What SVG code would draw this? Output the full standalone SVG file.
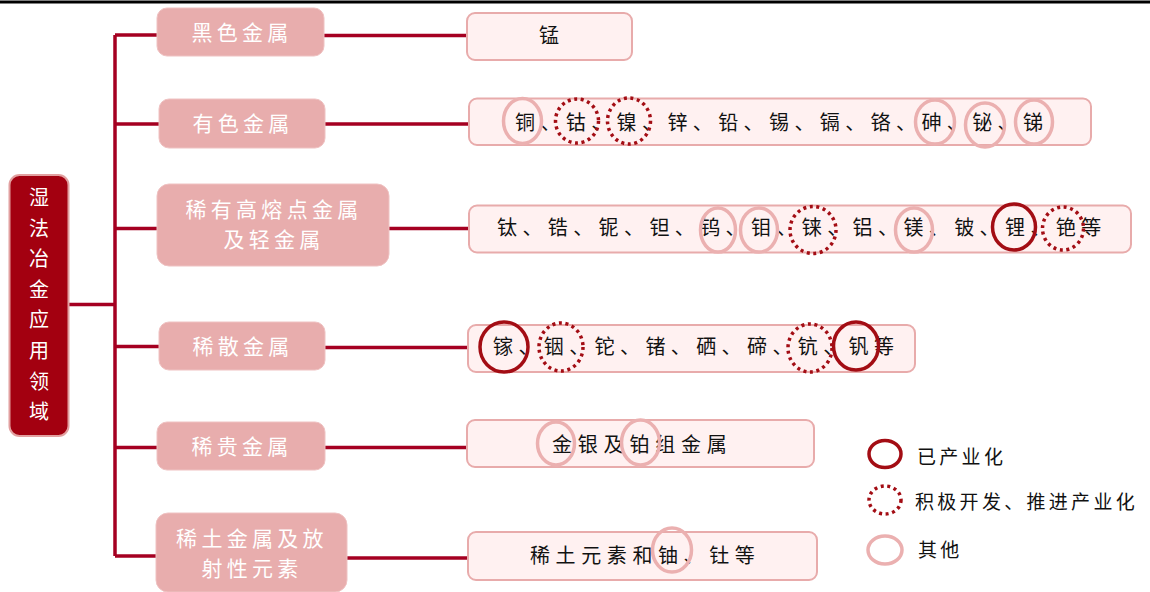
<svg xmlns="http://www.w3.org/2000/svg" width="1150" height="592" viewBox="0 0 1150 592">
<style>
text{font-family:"Noto Sans CJK SC","Noto Sans CJK JP",sans-serif}
.conn{stroke:#A50021;stroke-width:3.5;fill:none}
.root{fill:#A30010;stroke:#E2A0A0;stroke-width:2}
.rt{fill:#fff;font-size:20px;text-anchor:middle;dominant-baseline:central}
.branch{fill:#E8ADAD;stroke:#EFC2C2;stroke-width:1}
.bt{fill:#fff;font-size:21px;letter-spacing:4.3px;text-anchor:middle;dominant-baseline:central}
.leaf{fill:#FFF1F1;stroke:#E8ABAB;stroke-width:2}
.lt{fill:#111;font-size:20px;letter-spacing:5.4px;dominant-baseline:central}
.cs{fill:none;stroke:#A30D14;stroke-width:3.5}
.cd{fill:none;stroke:#A30D14;stroke-width:3.5;stroke-dasharray:3 3.6}
.cl{fill:none;stroke:#EBB0B0;stroke-width:3.5}
.lg{fill:#111;font-size:19px;letter-spacing:3.3px;dominant-baseline:central}
</style>
<line x1="0" y1="2" x2="1150" y2="2" stroke="#000" stroke-width="3"/>
<g id="connectors">
<path class="conn" d="M69 304.5 H115"/>
<path class="conn" d="M115 35 V556"/>
<path class="conn" d="M115 35 H157"/>
<path class="conn" d="M115 124 H159"/>
<path class="conn" d="M115 228.5 H157"/>
<path class="conn" d="M115 346.5 H159"/>
<path class="conn" d="M115 447.5 H157"/>
<path class="conn" d="M115 556 H156"/>
<path class="conn" d="M324 35.5 H467"/>
<path class="conn" d="M325 124 H469"/>
<path class="conn" d="M389 228.5 H469"/>
<path class="conn" d="M325 347.5 H468"/>
<path class="conn" d="M325 447.5 H467"/>
<path class="conn" d="M347 558 H468"/>
</g>
<g id="root">
<rect class="root" x="9.5" y="175" width="59" height="261" rx="10"/>
<text class="rt"><tspan x="39" y="196">湿</tspan><tspan x="39" y="226.6">法</tspan><tspan x="39" y="257.2">冶</tspan><tspan x="39" y="287.8">金</tspan><tspan x="39" y="318.4">应</tspan><tspan x="39" y="349">用</tspan><tspan x="39" y="379.6">领</tspan><tspan x="39" y="410.2">域</tspan></text>
</g>
<g id="b1"><rect class="branch" x="157" y="8" width="167" height="48" rx="10"/><text class="bt" x="242" y="31">黑色金属</text></g>
<g id="b2"><rect class="branch" x="159" y="99" width="166" height="49" rx="10"/><text class="bt" x="243" y="122">有色金属</text></g>
<g id="b3"><rect class="branch" x="157" y="184" width="232" height="82" rx="12"/><text class="bt" x="274" y="208">稀有高熔点金属</text><text class="bt" x="274" y="238">及轻金属</text></g>
<g id="b4"><rect class="branch" x="159" y="322" width="166" height="48" rx="10"/><text class="bt" x="243" y="345">稀散金属</text></g>
<g id="b5"><rect class="branch" x="157" y="422" width="168" height="48" rx="10"/><text class="bt" x="242" y="445">稀贵金属</text></g>
<g id="b6"><rect class="branch" x="156" y="513" width="191" height="79" rx="12"/><text class="bt" x="252" y="537">稀土金属及放</text><text class="bt" x="252" y="567">射性元素</text></g>
<g id="l1"><rect class="leaf" x="467" y="13" width="165" height="47" rx="8"/><text class="lt" x="539" y="34">锰</text></g>
<g id="l2"><rect class="leaf" x="469" y="98.5" width="622" height="46.5" rx="8"/><text class="lt" x="515" y="121">铜、钴、镍、锌、铅、锡、镉、铬、砷、铋、锑</text>
<ellipse class="cl" cx="522.5" cy="121" rx="19" ry="22.5"/>
<ellipse class="cd" cx="577" cy="121" rx="21.5" ry="22"/>
<ellipse class="cd" cx="629" cy="121" rx="21.5" ry="23"/>
<ellipse class="cl" cx="935" cy="122" rx="19.5" ry="22"/>
<ellipse class="cl" cx="985" cy="125" rx="19.5" ry="22"/>
<ellipse class="cl" cx="1034" cy="122" rx="18.5" ry="22"/>
</g>
<g id="l3"><rect class="leaf" x="469" y="205.5" width="662" height="47" rx="8"/><text class="lt" x="497" y="226">钛、锆、铌、钽、钨、钼、铼、铝、镁、铍、锂、铯等</text>
<ellipse class="cl" cx="718" cy="230" rx="17.5" ry="22"/>
<ellipse class="cl" cx="759" cy="230" rx="18.5" ry="22"/>
<ellipse class="cd" cx="813" cy="230" rx="23" ry="23.5"/>
<ellipse class="cl" cx="914" cy="230" rx="18.5" ry="22"/>
<ellipse class="cs" cx="1014" cy="227" rx="21.5" ry="23"/>
<ellipse class="cd" cx="1063" cy="228.5" rx="20.5" ry="21.5"/>
</g>
<g id="l4"><rect class="leaf" x="468" y="325" width="447" height="47" rx="8"/><text class="lt" x="493" y="345">镓、铟、铊、锗、硒、碲、钪、钒等</text>
<ellipse class="cs" cx="504" cy="347" rx="24" ry="25"/>
<ellipse class="cd" cx="561" cy="347" rx="22" ry="24"/>
<ellipse class="cd" cx="810" cy="348" rx="22" ry="24"/>
<ellipse class="cs" cx="856" cy="346" rx="22.5" ry="24"/>
</g>
<g id="l5"><rect class="leaf" x="467" y="420" width="347" height="47" rx="8"/><text class="lt" x="552" y="443" style="letter-spacing:5.8px">金银及铂组金属</text>
<ellipse class="cl" cx="556" cy="443.5" rx="18.5" ry="21.5"/>
<ellipse class="cl" cx="640.5" cy="442.5" rx="19" ry="22.5"/>
</g>
<g id="l6"><rect class="leaf" x="468" y="532" width="349" height="48" rx="8"/><text class="lt" x="530" y="554" style="letter-spacing:5.6px">稀土元素和铀、钍等</text>
<ellipse class="cl" cx="672" cy="550" rx="19.5" ry="22"/>
</g>
<g id="legend">
<ellipse class="cs" cx="885" cy="454" rx="16" ry="13.5"/>
<text class="lg" x="917" y="455">已产业化</text>
<ellipse class="cd" cx="885" cy="500" rx="16" ry="14"/>
<text class="lg" x="915" y="500">积极开发、推进产业化</text>
<ellipse class="cl" cx="885" cy="550" rx="17" ry="14"/>
<text class="lg" x="918" y="548">其他</text>
</g>
</svg>
